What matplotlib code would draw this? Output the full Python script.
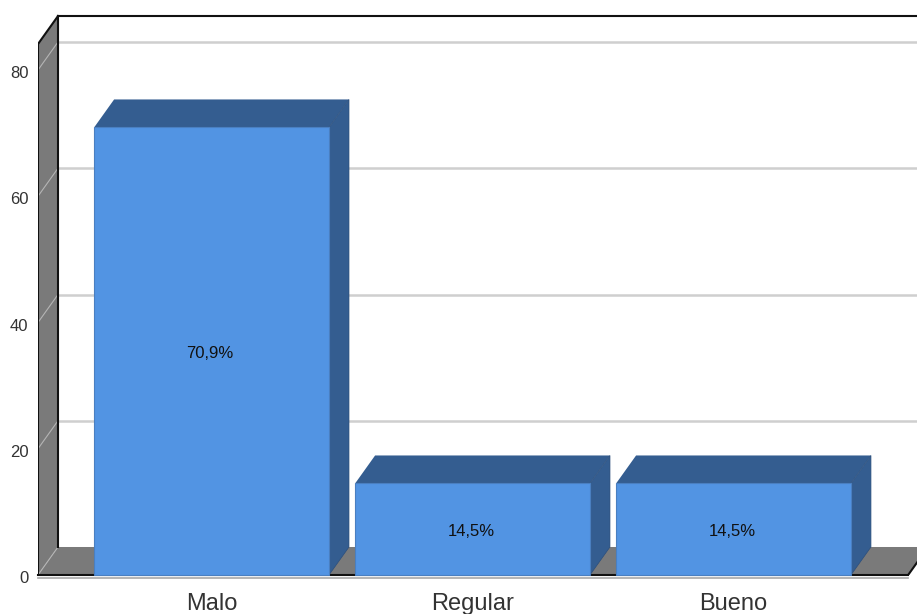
import matplotlib
matplotlib.use("Agg")
import matplotlib.pyplot as plt
from matplotlib.patches import Polygon
from matplotlib.transforms import ScaledTranslation

categories = ["Malo", "Regular", "Bueno"]
values = [70.9, 14.5, 14.5]
labels = ["70,9%", "14,5%", "14,5%"]
yticks = [0, 20, 40, 60, 80]

# depth of the fake 3d box, in data units
dx = 0.0766
dy = 4.436
bar_w = 0.9
x_left = -0.665
x_right = 2.669
x_end = 2.703
y_top = 88.55

FRONT = "#5294e3"
DARK = "#345d90"
WALL = "#7a7a7a"
GRID = "#cfcfcf"

plt.rcParams["font.family"] = ["Liberation Sans", "DejaVu Sans"]

fig = plt.figure(figsize=(9.17, 6.14), dpi=100)
ax = fig.add_axes([38 / 917, 39 / 614, 879 / 917, 575 / 614])
ax.set_xlim(x_left, x_end)
ax.set_ylim(0, 91.09)
for s in ax.spines.values():
	s.set_visible(False)


def poly(pts, color, z, edge="none", lw=0):
	ax.add_patch(Polygon(pts, closed=True, facecolor=color, edgecolor=edge, linewidth=lw, zorder=z, clip_on=False))


# left wall and floor
poly([(x_left, 0), (x_left + dx, dy), (x_left + dx, y_top), (x_left, y_top - dy)], WALL, 1)
poly([(x_left, 0), (x_right, 0), (x_right + dx, dy), (x_left + dx, dy)], WALL, 1)

# gridlines, back wall and the diagonal on the side wall
for t in yticks:
	if t > 0:
		ax.plot([x_left + dx, x_end], [t + dy, t + dy], color=GRID, lw=1.8, zorder=0.5)
	ax.plot([x_left, x_left + dx], [t, t + dy], color="#b5b5b5", lw=0.8, zorder=2)

# frame lines
ax.plot([x_left, x_left], [0, y_top - dy], color="#111111", lw=1.5, zorder=3)
ax.plot([x_left + dx, x_left + dx], [dy, y_top], color="#111111", lw=1.5, zorder=3)
ax.plot([x_left, x_left + dx], [y_top - dy, y_top], color="#111111", lw=1.5, zorder=3)
ax.plot([x_left + dx, x_end], [y_top, y_top], color="#111111", lw=1.5, zorder=3)
ax.plot([x_left, x_right], [0, 0], color="#111111", lw=1.5, zorder=3, clip_on=False)
ax.plot([x_left, x_right], [-0.4, -0.4], color="#a8a8a8", lw=1.2, zorder=2, clip_on=False)
ax.plot([x_right, x_right + dx], [0, dy], color="#111111", lw=1.5, zorder=3)

# bars
for i, v in enumerate(values):
	l = i - bar_w / 2
	r = i + bar_w / 2
	poly([(l, 0), (r, 0), (r, v), (l, v)], FRONT, 5, edge="#4a7fc0", lw=0.8)
	poly([(l, v), (r, v), (r + dx, v + dy), (l + dx, v + dy)], DARK, 4)
	poly([(r, 0), (r + dx, dy), (r + dx, v + dy), (r, v)], DARK, 4, edge="#2c4f7c", lw=0.5)
	ax.annotate(labels[i], (i, v / 2), xytext=(-1, -1.5), textcoords="offset points", ha="center", va="center", fontsize=12, color="#111111", zorder=6)

ax.set_xticks(range(len(categories)))
ax.set_xticklabels(categories, fontsize=17, color="#333333", va="baseline")
ax.set_yticks(yticks)
ax.set_yticklabels([str(t) for t in yticks], fontsize=12, color="#333333")
ax.tick_params(axis="x", length=0, pad=25)
ax.tick_params(axis="y", length=0, pad=7)
for lab in ax.get_yticklabels():
	lab.set_transform(lab.get_transform() + ScaledTranslation(0, -2 / 100, fig.dpi_scale_trans))

fig.savefig("out.png", dpi=100)
